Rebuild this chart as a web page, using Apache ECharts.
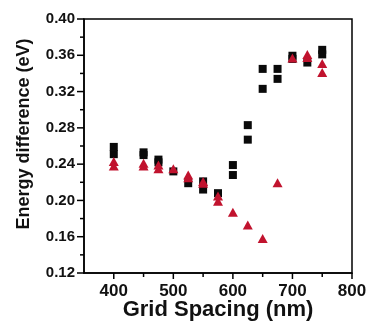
<!DOCTYPE html>
<html><head><meta charset="utf-8">
<script src="https://cdn.jsdelivr.net/npm/echarts@6/dist/echarts.min.js"></script>
<style>html,body{margin:0;padding:0;background:#fff}#c{width:369px;height:322px}</style>
</head><body><div id="c"></div>
<script>
// Black squares: [grid spacing, energy difference]
const squareData = [
  [400, 0.259], [400, 0.251],
  [450, 0.253], [450, 0.250],
  [475, 0.245], [475, 0.242],
  [500, 0.232],
  [525, 0.219],
  [550, 0.221], [550, 0.212],
  [575, 0.208],
  [600, 0.239], [600, 0.228],
  [625, 0.283], [625, 0.267],
  [650, 0.345], [650, 0.323],
  [675, 0.345], [675, 0.334],
  [700, 0.3595], [700, 0.356],
  [725, 0.352],
  [750, 0.366], [750, 0.361]
];
// Red triangles
const triangleData = [
  [400, 0.243], [400, 0.238],
  [450, 0.241], [450, 0.238],
  [475, 0.239], [475, 0.235],
  [500, 0.235],
  [525, 0.228], [525, 0.225],
  [550, 0.221], [550, 0.219],
  [575, 0.205], [575, 0.199],
  [600, 0.187],
  [625, 0.173],
  [650, 0.158],
  [675, 0.2195],
  [700, 0.357],
  [725, 0.361], [725, 0.3576],
  [750, 0.351], [750, 0.341]
];
// Tick positions
const xMajorTicks = [400, 500, 600, 700, 800];
const xMinorTicks = [450, 550, 650, 750];
const yMajorTicks = [0.12, 0.16, 0.20, 0.24, 0.28, 0.32, 0.36, 0.40];
const yMinorTicks = [0.14, 0.18, 0.22, 0.26, 0.30, 0.34, 0.38];
const X_MIN = 350, X_MAX = 800, Y_MIN = 0.12, Y_MAX = 0.40;

const xTickData = xMajorTicks.map(v => [v, Y_MIN, 6]).concat(xMinorTicks.map(v => [v, Y_MIN, 4]));
const yTickData = yMajorTicks.map(v => [X_MIN, v, 7]).concat(yMinorTicks.map(v => [X_MIN, v, 4]));

const chart = echarts.init(document.getElementById('c'));
const font = 'Liberation Sans, Arial, sans-serif';
chart.setOption({
  animation: false,
  grid: {left: 84, top: 19, right: 17, bottom: 49, outerBoundsMode: 'none',
    show: true, borderColor: '#000', borderWidth: 1.5, backgroundColor: 'transparent'},
  xAxis: {
    type: 'value', min: X_MIN, max: X_MAX, interval: 50, position: 'bottom',
    axisLine: {show: true, lineStyle: {color: '#000', width: 1.5}},
    axisTick: {show: false},
    axisLabel: {color: '#111', fontFamily: font, fontWeight: 'bold', fontSize: 17, margin: 10,
      formatter: v => (xMajorTicks.indexOf(v) >= 0 ? String(v) : '')},
    splitLine: {show: false},
    name: 'Grid Spacing (nm)', nameLocation: 'middle', nameGap: 26, nameMoveOverlap: false,
    nameTextStyle: {color: '#111', fontFamily: font, fontWeight: 'bold', fontSize: 22}
  },
  yAxis: {
    type: 'value', min: Y_MIN, max: Y_MAX, interval: 0.04, position: 'left',
    axisLine: {show: true, lineStyle: {color: '#000', width: 1.5}},
    axisTick: {show: false},
    axisLabel: {color: '#111', fontFamily: font, fontWeight: 'bold', fontSize: 15, margin: 9,
      formatter: v => v.toFixed(2)},
    splitLine: {show: false},
    name: 'Energy difference (eV)', nameLocation: 'middle', nameGap: 51, nameMoveOverlap: false,
    nameTextStyle: {color: '#111', fontFamily: font, fontWeight: 'bold', fontSize: 18, padding: [0, 0, 0, 24]}
  },
  series: [{
    type: 'scatter', data: squareData, symbol: 'rect', symbolSize: 8,
    itemStyle: {color: '#0a0a0a', opacity: 1}
  }, {
    type: 'scatter', data: triangleData, symbol: 'triangle', symbolSize: [10, 9],
    itemStyle: {color: '#c1132e', opacity: 1}
  }, {
    type: 'custom', data: xTickData, clip: false, silent: true, z: 5,
    renderItem: (params, api) => {
      const p = api.coord([api.value(0), api.value(1)]);
      return {type: 'line', shape: {x1: p[0], y1: p[1], x2: p[0], y2: p[1] + api.value(2)},
        style: {stroke: '#000', lineWidth: 1.5}};
    }
  }, {
    type: 'custom', data: yTickData, clip: false, silent: true, z: 5,
    renderItem: (params, api) => {
      const p = api.coord([api.value(0), api.value(1)]);
      return {type: 'line', shape: {x1: p[0] - api.value(2), y1: p[1], x2: p[0], y2: p[1]},
        style: {stroke: '#000', lineWidth: 1.5}};
    }
  }]
});
</script></body></html>
